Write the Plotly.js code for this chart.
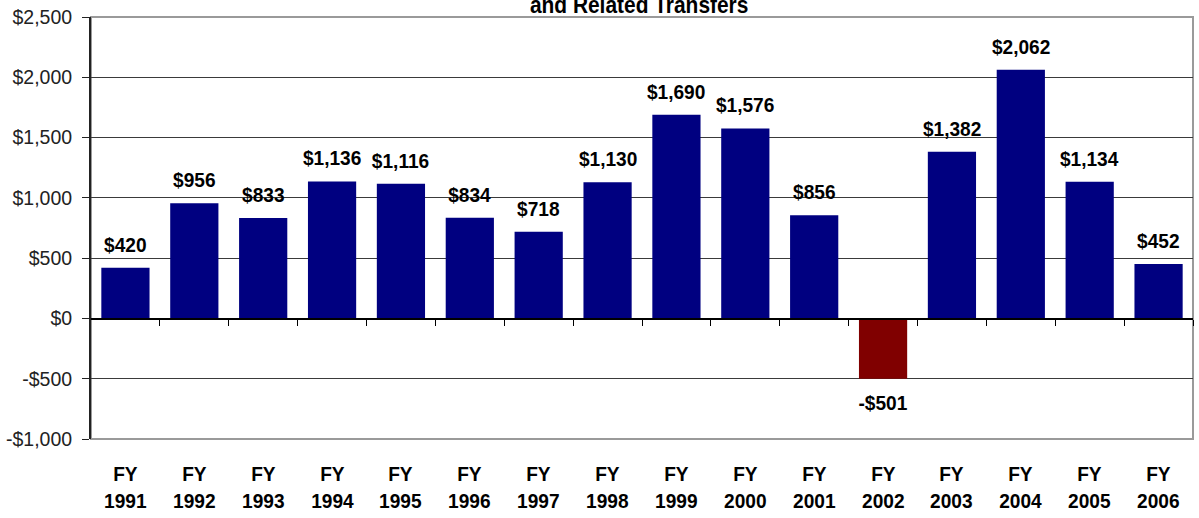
<!DOCTYPE html>
<html>
<head>
<meta charset="utf-8">
<script src="https://cdn.plot.ly/plotly-3.0.1.min.js"></script>
<style>
html,body{margin:0;padding:0;background:#fff;}
#chart{width:1199px;height:518px;}
/* emulate the slightly condensed face of the original chart */
#chart .annotation-text{transform-box:fill-box;transform-origin:center;transform:scaleX(0.91);}
</style>
</head>
<body>
<div id="chart"></div>
<script>
const years = ["1991","1992","1993","1994","1995","1996","1997","1998","1999","2000","2001","2002","2003","2004","2005","2006"];
const values = [420, 956, 833, 1136, 1116, 834, 718, 1130, 1690, 1576, 856, -501, 1382, 2062, 1134, 452];
const yTickVals = [-1000, -500, 0, 500, 1000, 1500, 2000, 2500];
const yTickLabels = ["-$1,000", "-$500", "$0", "$500", "$1,000", "$1,500", "$2,000", "$2,500"];
const titleText = "and Related Transfers";

const FONT = '"Liberation Sans", Arial, sans-serif';

function fmt(v) {
  const s = Math.abs(v).toLocaleString('en-US');
  return (v < 0 ? '-$' : '$') + s;
}
const idx = years.map((_, i) => i);
const boundaries = idx.map(i => i + 0.5);
const xLabels = years.map(y => '<b>FY</b><br><b>' + y + '</b>');
const colors = values.map(v => v < 0 ? '#800000' : '#000080');
const yMin = yTickVals[0], yMax = yTickVals[yTickVals.length - 1];

const trace = {
  type: 'bar',
  x: idx,
  y: values,
  marker: {color: colors, line: {width: 0}},
  hoverinfo: 'none',
  xaxis: 'x',
  yaxis: 'y'
};
const helper = {
  type: 'scatter', mode: 'none', x: idx, y: values,
  xaxis: 'x2', yaxis: 'y', hoverinfo: 'none', showlegend: false
};

const annotations = values.map((v, i) => ({
  x: i, y: v, xref: 'x', yref: 'y',
  text: '<b>' + fmt(v) + '</b>',
  showarrow: false,
  yanchor: v < 0 ? 'top' : 'bottom',
  yshift: v < 0 ? -10 : 10,
  font: {family: FONT, size: 21, color: '#000'}
}));
// category labels at the bottom of the plot
xLabels.forEach((t, i) => annotations.push({
  x: i, y: yMin, xref: 'x', yref: 'y',
  text: t, showarrow: false, yanchor: 'top', yshift: -21,
  font: {family: FONT, size: 21, color: '#000'}
}));
annotations.push({
  xref: 'paper', yref: 'paper', x: 0.497, y: 1, yanchor: 'bottom', yshift: -3,
  text: '<b>' + titleText + '</b>', showarrow: false,
  font: {family: FONT, size: 23, color: '#000'}
});

const layout = {
  width: 1199, height: 518,
  margin: {l: 91, r: 6, t: 17, b: 79},
  paper_bgcolor: '#fff', plot_bgcolor: '#fff',
  showlegend: false,
  bargap: 0.3,
  xaxis: {
    type: 'linear', range: [-0.5, 15.5], fixedrange: true,
    showticklabels: false, ticks: '',
    showgrid: false, zeroline: false, showline: false
  },
  xaxis2: {
    type: 'linear', range: [-0.5, 15.5], overlaying: 'x', anchor: 'free', position: (0 - yMin) / (yMax - yMin),
    side: 'bottom',
    tickmode: 'array', tickvals: boundaries,
    showticklabels: false,
    ticks: 'outside', ticklen: 6, tickcolor: '#000', tickwidth: 1,
    showgrid: false, zeroline: false, showline: true, linecolor: '#000', linewidth: 1.5
  },
  yaxis: {
    range: [yMin, yMax], fixedrange: true,
    tickmode: 'array', tickvals: yTickVals, ticktext: yTickLabels,
    ticks: 'outside', ticklen: 7, tickcolor: '#222', ticklabelstandoff: 6,
    tickfont: {family: FONT, size: 19.5, color: '#222'},
    showgrid: true, gridcolor: '#3a3a3a', gridwidth: 1,
    zeroline: false,
    showline: true, linecolor: '#222', linewidth: 2
  },
  shapes: [{
    type: 'rect', xref: 'paper', yref: 'paper', x0: 0, x1: 1, y0: 0, y1: 1,
    line: {color: '#9a9a9a', width: 2}, layer: 'below'
  }],
  annotations: annotations
};

Plotly.newPlot('chart', [trace, helper], layout, {staticPlot: true, displayModeBar: false});
</script>
</body>
</html>
